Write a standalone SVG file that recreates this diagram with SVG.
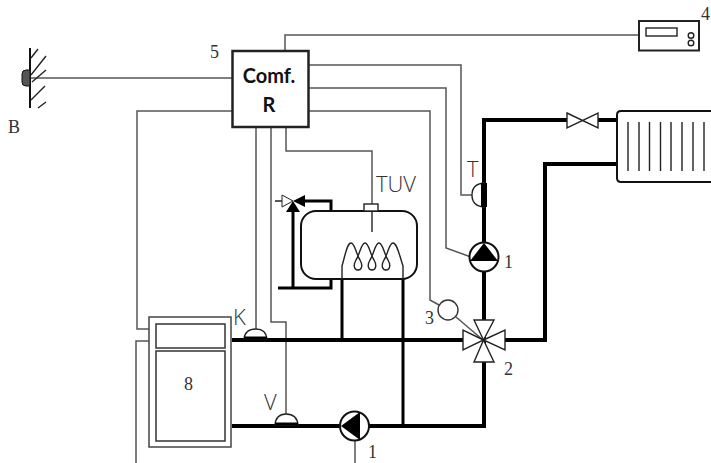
<svg xmlns="http://www.w3.org/2000/svg" width="711" height="463" viewBox="0 0 711 463">
<style>
.w{fill:none;stroke:#555;stroke-width:1.5}
.p{fill:none;stroke:#000;stroke-width:4}
.q{fill:none;stroke:#000;stroke-width:3}
.m{fill:none;stroke:#111;stroke-width:2}
.t{fill:none;stroke:#222;stroke-width:1.4}
.b{fill:#fff;stroke:#222;stroke-width:1.4}
.n{font-family:"Liberation Serif",serif;font-size:18px;fill:#333}
.l{font-family:"Open Sans","DejaVu Sans",sans-serif;font-size:22px;fill:#333;font-weight:300}
.c{font-family:"Lato","Liberation Sans",sans-serif;font-size:20px;font-weight:700;fill:#111;text-anchor:middle}
</style>
<rect width="711" height="463" fill="#fff"/>
<g id="connectors">
<path class="w" d="M30 78H232M285 51V35H638M308 65H461V195H472M308 88H446V248L471 257M308 111H430V300L439 305M232 111H137V329H149M149 341H136V463M256 127V329M271 127V322H286V414M286 127V151H372V232M355 441V463M456 317L483 340"/>
<path class="p" d="M232 340H463M505 340H545V164H617M232 426H340M369 426H484V120H567M598 120H617M484 272V320M484 362V426M484 183V241"/>
<path class="q" d="M342 279V340M403 279V426"/>
<path class="q" d="M293 288V210M278 288H331V279M331 211V201H303"/>
</g>
<g id="sensor-b">
<path class="m" d="M30 48V108"/>
<path class="t" stroke-width="2" d="M31 58L38 49M31 75L46 56M32 82L46 70M31 100L45 86M38 108L46 102"/>
<path d="M30 70H26Q22 70 22 74V82Q22 86 26 86H30Z" fill="#555" stroke="#111"/>
<text class="n" x="8" y="133" font-size="17">B</text>
</g>
<g id="controller">
<rect x="232.500" y="51" width="76" height="76" fill="#fff" stroke="#222" stroke-width="2.500"/>
<text class="c" x="269" y="83">Comf.</text>
<text class="c" x="269" y="112">R</text>
<text class="n" x="210" y="58">5</text>
</g>
<g id="display">
<rect x="639" y="21" width="60" height="29.500" fill="#fff" stroke="#222" stroke-width="2"/>
<rect x="646" y="28" width="31" height="8" class="b"/>
<circle cx="691" cy="35.500" r="2.800" class="b"/><circle cx="691" cy="43" r="2.800" class="b"/>
<text class="n" x="701" y="20">4</text>
</g>
<g id="radiator">
<path d="M711 111H621Q617 111 617 115V178Q617 182 621 182H711" fill="#fff" stroke="#111" stroke-width="2"/>
<path class="t" d="M628 122V171M639 122V171M649.500 122V171M660.500 122V171M671 122V171M682 122V171M693 122V171M704 122V171"/>
</g>
<g id="radiator-valve"><path class="b" d="M567 113L598 128V113L567 128Z"/></g>
<g id="sensor-t">
<path d="M484 183Q472 184 472 195Q472 206 484 207Z" fill="#fff" stroke="#222" stroke-width="1.400"/>
<path d="M484 183V207" stroke="#000" stroke-width="6"/>
<text class="l" x="467" y="177">T</text>
</g>
<g id="pump-1-top">
<circle cx="484" cy="257" r="14.500" fill="#fff" stroke="#111" stroke-width="2"/>
<path d="M484 243L498 261H470Z" fill="#000"/>
<text class="n" x="504" y="268">1</text>
</g>
<g id="mixing-valve">
<circle cx="448" cy="310" r="10" fill="#fff" stroke="#333" stroke-width="1.400"/>
<path class="b" d="M483.500 340L474 320H494ZM483.500 340L474 362H494ZM483.500 340L463 330V350ZM483.500 340L505 330V350Z"/>
<text class="n" x="425" y="324">3</text>
<text class="n" x="504" y="375">2</text>
</g>
<g id="tank">
<rect x="301" y="211" width="116" height="68" rx="15" fill="#fff" stroke="#111" stroke-width="2"/>
<rect x="364" y="204" width="14" height="7" class="b"/>
<path class="t" d="M372 211V232"/>
<path class="t" d="M342 279V266C345 256 347 243 351 243C355 243 356 254 360 260C363 265 362 270 358 270C354 270 353 265 356 260C360 254 361 243 365 243C369 243 370 254 374 260C377 265 376 270 372 270C368 270 367 265 370 260C374 254 375 243 379 243C383 243 384 254 388 260C391 265 390 270 386 270C382 270 381 265 384 260C388 254 389 243 393 243C397 243 399 254 403 266V279"/>
<text class="l" x="376" y="192" font-size="24">TUV</text>
</g>
<g id="safety-valve">
<path d="M293 201L282 195V207Z" fill="#fff" stroke="#222"/>
<path d="M275 201H282" stroke="#222" stroke-width="1.500"/>
<path d="M293 201L305 195V207Z" fill="#000"/>
<path d="M293 201L286 212H300Z" fill="#000"/>
</g>
<g id="boiler">
<rect x="149" y="317" width="82" height="130" fill="#fff" stroke="#444" stroke-width="1.500"/>
<rect x="156" y="324" width="69" height="24" fill="#fff" stroke="#333" stroke-width="1.500"/>
<rect x="156" y="351" width="69" height="90" fill="#fff" stroke="#333" stroke-width="1.500"/>
<text class="n" x="184" y="390" font-size="20">8</text>
</g>
<g id="sensor-k">
<path d="M244 339Q245 329 256 329Q266 329 267 339Z" fill="#fff" stroke="#222" stroke-width="1.400"/>
<path d="M244 338H267" stroke="#000" stroke-width="3"/>
<text class="l" x="233" y="325">K</text>
</g>
<g id="sensor-v">
<path d="M275 425Q276 414 286 414Q297 414 298 425Z" fill="#fff" stroke="#222" stroke-width="1.400"/>
<path d="M275 424H298" stroke="#000" stroke-width="3"/>
<text class="l" x="264" y="410">V</text>
</g>
<g id="pump-1-bottom">
<circle cx="354.500" cy="426" r="14.500" fill="#fff" stroke="#111" stroke-width="2"/>
<path d="M341 426L360 412V440Z" fill="#000"/>
<text class="n" x="368" y="458">1</text>
</g>
</svg>
